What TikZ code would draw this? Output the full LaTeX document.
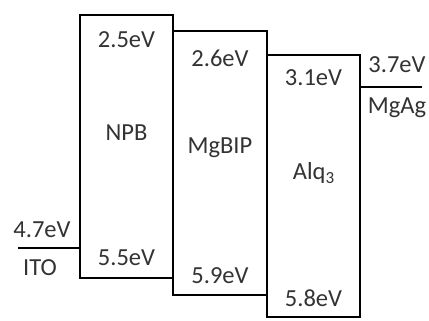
\documentclass[tikz,border=0pt]{standalone}
\usepackage{fontspec}
\setmainfont{Carlito}
\begin{document}
\begin{tikzpicture}[x=1pt,y=-1pt,
  level/.style={draw=black,line width=2.2pt},
  lbl/.style={font=\fontsize{24.5}{28}\selectfont,text=black!80,inner sep=0pt}]
\useasboundingbox[fill=white] (0,0) rectangle (429,321);
% boxes
\draw[level] (80,278) -- (80,15) -- (173,15) -- (173,278) -- cycle;
\draw[level] (173,31) -- (267,31) -- (267,295) -- (173,295) -- (173,278);
\draw[level] (267,55) -- (360,55) -- (360,317) -- (267,317) -- (267,295);
\coordinate (mgA) at (360,87);
\coordinate (mgB) at (422,87);
\coordinate (itoA) at (18,248);
\coordinate (itoB) at (80,248);
\draw[level] (mgA) -- (mgB);
\draw[level] (itoA) -- (itoB);
% labels
\node[lbl] (n1) at (126.5,40) {2.5eV};
\node[lbl] (n2) at (126.5,133) {NPB};
\node[lbl] (n3) at (126.5,258) {5.5eV};
\node[lbl] (m1) at (220,58) {2.6eV};
\node[lbl] (m2) at (220,148) {MgBIP};
\node[lbl] (m3) at (220,276) {5.9eV};
\node[lbl] (a1) at (313.5,78) {3.1eV};
\node[lbl] (a2) at (313.5,173) {Alq\raisebox{-0.3ex}{\fontsize{17}{20}\selectfont 3}};
\node[lbl] (a3) at (313.5,298) {5.8eV};
\node[lbl] (g1) at (397,65) {3.7eV};
\node[lbl] (g2) at (397,108) {MgAg};
\node[lbl] (i1) at (42,230) {4.7eV};
\node[lbl] (i2) at (40,268) {ITO};
\end{tikzpicture}
\end{document}
